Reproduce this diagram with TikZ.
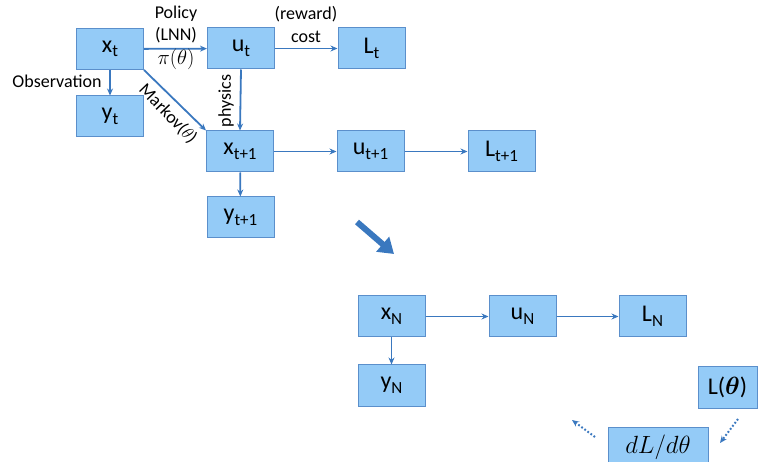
\documentclass[tikz,border=0pt]{standalone}
\usepackage{amsmath}
\usepackage{bm}
\usepackage{fontspec}
\setmainfont{Carlito}
\usepackage{tikz}
\usetikzlibrary{arrows.meta}
\definecolor{boxfill}{HTML}{94CBF7}
\definecolor{boxline}{HTML}{5B8FCB}
\definecolor{arrowblue}{HTML}{3A78BF}
\newcommand{\lowsub}[1]{\raisebox{-0.4ex}{\fontsize{17}{17}\selectfont #1}}
\tikzset{
    box/.style={draw=boxline, fill=boxfill, line width=1pt, minimum width=67pt, minimum height=41pt, inner sep=0pt, font=\fontsize{24}{26}\selectfont},
    lab/.style={font=\fontsize{18}{20}\selectfont, inner sep=0pt},
    conn/.style={draw=arrowblue, line width=1.8pt, -{Stealth[length=7pt,width=6pt]}},
}
\begin{document}
\begin{tikzpicture}[x=1pt, y=-1pt]
            \useasboundingbox (0,0) rectangle (758,462);
            \node[box](1) at (110, 49) {x\lowsub{t}};
            \node[box](2) at (110, 116.5) {y\lowsub{t}};
            \node[box](3) at (241, 48.5) {u\lowsub{t}};
            \node[box](4) at (371.5, 48.5) {L\lowsub{t}};
            \path (1) edge[conn] (2) (1) edge[conn] (3) (3) edge[conn] (4);
            \node[box](5) at (240, 151.5) {x\lowsub{t+1}};
            \node[box](6) at (370.5, 151.5) {u\lowsub{t+1}};
            \node[box](7) at (501.5, 151.5) {L\lowsub{t+1}};
            \node[box](8) at (240.5, 217.5) {y\lowsub{t+1}};
            \path (1.south east) edge[conn] (5.north west) (3.south) edge[conn] (5.north);
            \path (5) edge[conn] (6) (6) edge[conn] (7) (5) edge[conn] (8);
            \node[lab](9) at (176, 14) {Policy};
            \node[lab](10) at (176, 35) {(LNN)};
            \node[lab, font=\fontsize{21}{22}\selectfont](11) at (176, 59) {$\pi(\theta)$};
            \node[lab](12) at (306, 14) {(reward)};
            \node[lab](13) at (306, 37) {cost};
            \node[lab](14) at (57, 81) {Observation};
            \node[lab, rotate=90](15) at (226, 101) {physics};
            \node[lab, rotate=-46](16) at (168, 114) {Markov($\theta$)};
            \coordinate(17) at (357, 222);
            \coordinate(18) at (394, 254);
            \draw[draw=arrowblue, line width=6pt, -{Triangle[length=15pt,width=19pt]}] (17) -- (18);
            \node[box](19) at (391.5, 316.5) {x\lowsub{N}};
            \node[box](20) at (522.5, 316.5) {u\lowsub{N}};
            \node[box](21) at (652.5, 316.5) {L\lowsub{N}};
            \node[box](22) at (391.5, 385.5) {y\lowsub{N}};
            \path (19) edge[conn] (20) (20) edge[conn] (21) (19) edge[conn] (22);
            \node[box, minimum width=59pt](23) at (727.5, 387.5) {L($\bm{\theta}$)};
            \node[box, minimum width=100pt, font=\fontsize{25}{26}\selectfont](24) at (658, 447.5) {$dL/d\theta$};
            \coordinate(25) at (738, 419);
            \coordinate(26) at (720, 443);
            \coordinate(27) at (595, 437);
            \coordinate(28) at (572, 420);
            \path (25) edge[conn, dotted, line width=2pt] (26) (27) edge[conn, dotted, line width=2pt] (28);
        \end{tikzpicture}
\end{document}
